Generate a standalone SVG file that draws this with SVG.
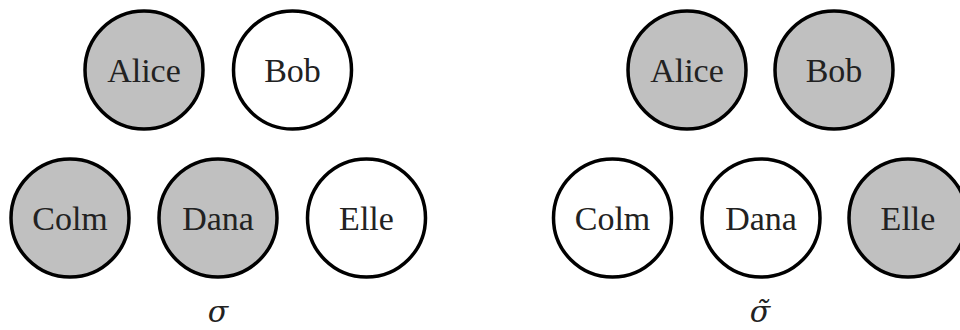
<svg xmlns="http://www.w3.org/2000/svg" width="960" height="330" viewBox="0 0 960 330">
<style>
.n{stroke:#000;stroke-width:3.5}
.on{fill:#c0c0c0}
.off{fill:#fff}
.t{font-family:"Liberation Serif","DejaVu Serif",serif;font-size:34px;fill:#222;text-anchor:middle}
.s{font-family:"DejaVu Serif","Liberation Serif",serif;font-style:italic;font-size:30px;fill:#222;text-anchor:middle}
</style>
<rect width="960" height="330" fill="#fff"/>
<g id="left">
<g id="l-alice"><circle class="n on" cx="144" cy="70" r="59"/><text class="t" x="144" y="82">Alice</text></g>
<g id="l-bob"><circle class="n off" cx="292.5" cy="70" r="59"/><text class="t" x="292.5" y="82">Bob</text></g>
<g id="l-colm"><circle class="n on" cx="70" cy="218" r="59"/><text class="t" x="70" y="230">Colm</text></g>
<g id="l-dana"><circle class="n on" cx="218" cy="218" r="59"/><text class="t" x="218" y="230">Dana</text></g>
<g id="l-elle"><circle class="n off" cx="366.5" cy="218" r="59"/><text class="t" x="366.5" y="230">Elle</text></g>
<text id="l-label" class="s" x="218" y="322">σ</text>
</g>
<g id="right">
<g id="r-alice"><circle class="n on" cx="687" cy="70" r="59"/><text class="t" x="687" y="82">Alice</text></g>
<g id="r-bob"><circle class="n on" cx="834" cy="70" r="59"/><text class="t" x="834" y="82">Bob</text></g>
<g id="r-colm"><circle class="n off" cx="612.5" cy="218" r="59"/><text class="t" x="612.5" y="230">Colm</text></g>
<g id="r-dana"><circle class="n off" cx="761" cy="218" r="59"/><text class="t" x="761" y="230">Dana</text></g>
<g id="r-elle"><circle class="n on" cx="908" cy="218" r="59"/><text class="t" x="908" y="230">Elle</text></g>
<text id="r-label" class="s" x="760" y="322">σ̃</text>
</g>
<g id="connectors"/>
</svg>
